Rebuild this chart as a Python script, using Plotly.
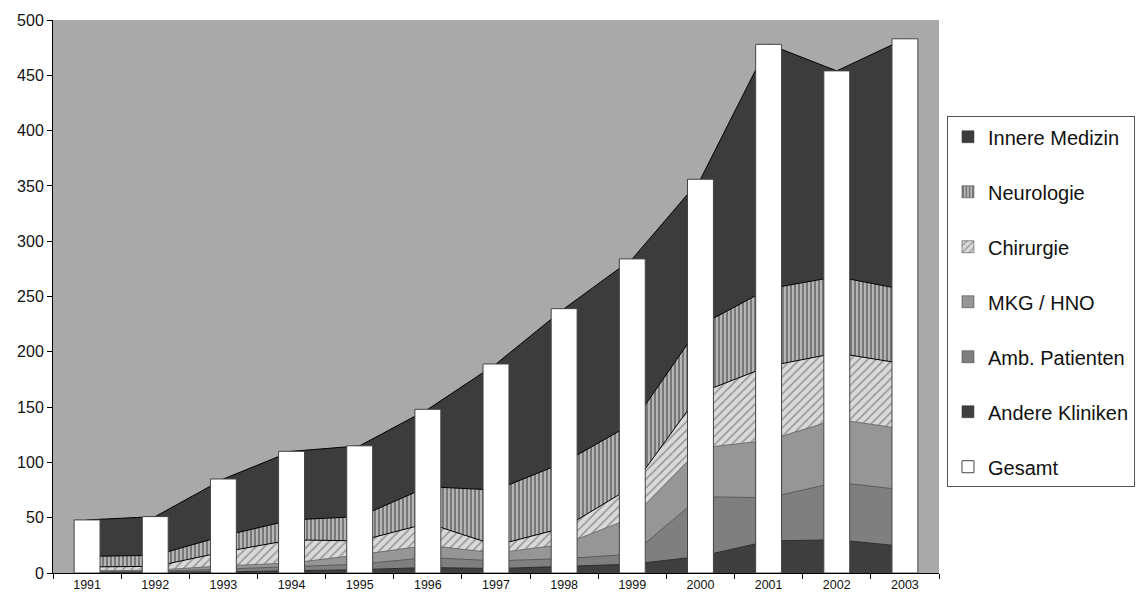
import plotly.graph_objects as go

years = ["1991", "1992", "1993", "1994", "1995", "1996", "1997",
         "1998", "1999", "2000", "2001", "2002", "2003"]

andere_kliniken = [0.5, 0.5, 1, 2, 3, 5, 4, 6, 8, 15, 29, 30, 24]
amb_patienten = [0.5, 1, 2.5, 3.5, 5, 9, 7, 7, 9, 54, 39, 52, 51]
mkg_hno = [1, 1, 3, 3.5, 8.5, 11, 7, 13, 33, 44, 52, 57, 55]
chirurgie = [3.5, 3.5, 12.5, 21, 12.5, 20, 7, 15, 28, 50, 67, 60, 59]
neurologie = [9.5, 10, 14.5, 18, 22, 33, 50, 59, 57, 61, 70, 69, 67]
innere_medizin = [33, 35, 51.5, 62, 64, 70, 114, 139, 149, 132, 221, 186, 227]
gesamt = [48, 51, 85, 110, 115, 148, 189, 239, 284, 356, 478, 454, 483]

y_ticks = [0, 50, 100, 150, 200, 250, 300, 350, 400, 450, 500]

FONT = "Arial, Liberation Sans, sans-serif"

series = [
    # name, values, fill color, line color, pattern
    ("Andere Kliniken", andere_kliniken, "#3f3f3f", "#2a2a2a", None),
    ("Amb. Patienten", amb_patienten, "#7f7f7f", "#5a5a5a", None),
    ("MKG / HNO", mkg_hno, "#969696", "#6e6e6e", None),
    ("Chirurgie", chirurgie, "#d9d9d9", "#000000",
     dict(shape="/", fgcolor="#4a4a4a", bgcolor="#d9d9d9", size=6, solidity=0.25)),
    ("Neurologie", neurologie, "#bdbdbd", "#000000",
     dict(shape="|", fgcolor="#1a1a1a", bgcolor="#b5b5b5", size=4, solidity=0.4)),
    ("Innere Medizin", innere_medizin, "#3c3c3c", "#000000", None),
]

fig = go.Figure()

# stacked areas (no legend, legend handled by square proxies)
for name, vals, fc, lc, pat in series:
    kw = dict(
        x=years, y=vals, name=name, stackgroup="one", mode="lines",
        line=dict(color=lc, width=1), fillcolor=fc, showlegend=False,
        hoverinfo="skip", xaxis="x", yaxis="y",
    )
    if pat is not None:
        kw["fillpattern"] = pat
    fig.add_trace(go.Scatter(**kw))

# legend proxies (square symbols), in legend order
legend_order = ["Innere Medizin", "Neurologie", "Chirurgie", "MKG / HNO",
                "Amb. Patienten", "Andere Kliniken"]
lookup = {s[0]: s for s in series}
for rank, nm in enumerate(legend_order, start=1):
    _, _, fc, lc, pat = lookup[nm]
    marker = dict(color=fc, line=dict(color="#333333", width=0.5))
    if pat is not None:
        marker["pattern"] = pat
    fig.add_trace(go.Bar(
        x=[None], y=[None], name=nm, marker=marker, legendrank=rank,
        legendgroup=nm, showlegend=True, xaxis="x", yaxis="y",
    ))

# Gesamt bars on overlaying axis so they are drawn above the areas
fig.add_trace(go.Bar(
    x=years, y=gesamt, name="Gesamt", width=0.38,
    marker=dict(color="#ffffff", line=dict(color="#444444", width=1)),
    legendrank=7, legendgroup="Gesamt", hoverinfo="skip",
    xaxis="x", yaxis="y2",
))

axis_font = dict(family=FONT, size=16, color="#111111")

fig.update_layout(
    width=1147, height=605,
    margin=dict(l=53, r=208, t=18, b=32),
    paper_bgcolor="#ffffff",
    plot_bgcolor="#a9a9a9",
    font=dict(family=FONT, color="#111111"),
    barmode="overlay",
    xaxis=dict(
        type="category", categoryorder="array", categoryarray=years,
        range=[-0.5, 12.5], tickson="boundaries", ticks="outside",
        ticklen=5, tickcolor="#000000", showline=True, linecolor="#000000",
        linewidth=1, showgrid=False, zeroline=False,
        tickfont=dict(family=FONT, size=12.5, color="#111111"),
        fixedrange=True,
    ),
    yaxis=dict(
        range=[0, 500], tickvals=y_ticks, ticks="outside", ticklen=5,
        tickcolor="#000000", showline=True, linecolor="#000000", linewidth=1,
        showgrid=False, zeroline=False, tickfont=axis_font, fixedrange=True,
    ),
    yaxis2=dict(
        range=[0, 500], overlaying="y", visible=False, showgrid=False,
        zeroline=False, fixedrange=True,
    ),
    legend=dict(
        x=1.009, xanchor="left", y=0.826, yanchor="top",
        bgcolor="#ffffff", bordercolor="#555555", borderwidth=1,
        font=dict(family=FONT, size=20, color="#111111"),
        traceorder="grouped", tracegroupgap=26,
    ),
)

fig.write_html("out.html")
